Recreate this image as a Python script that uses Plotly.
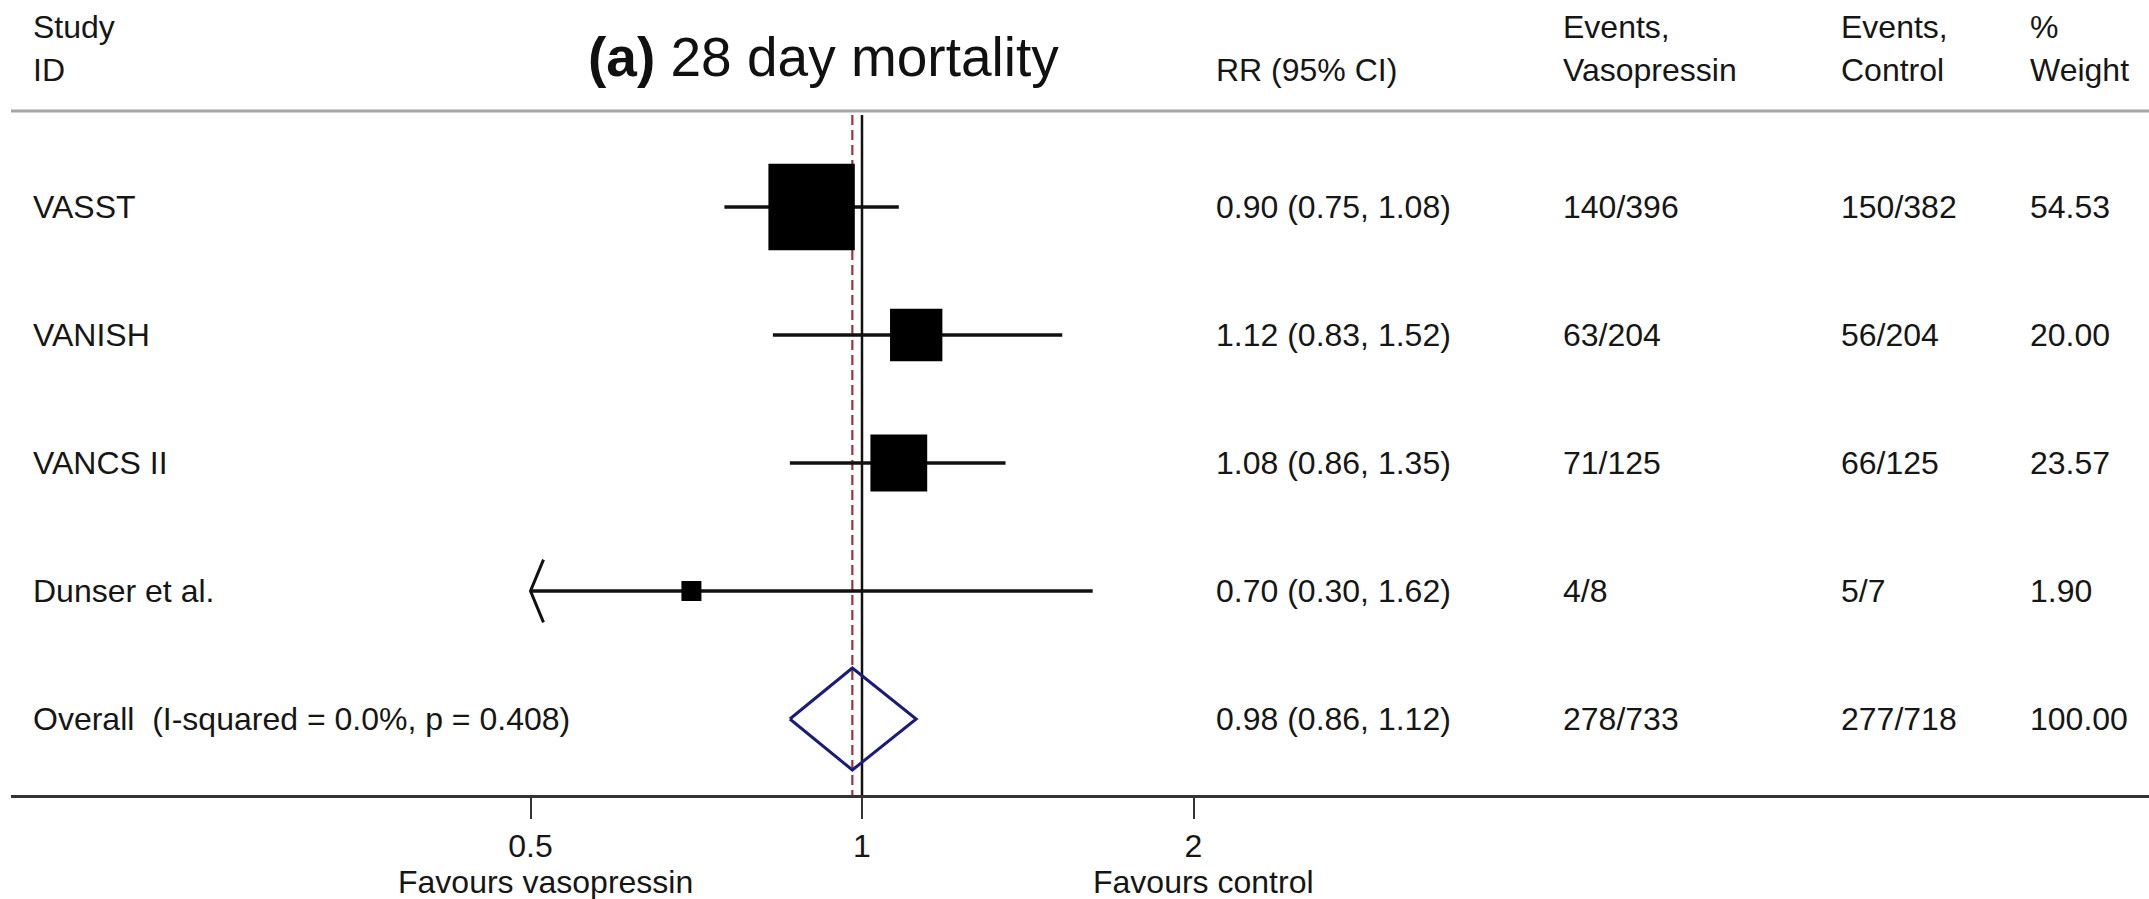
import math
import plotly.graph_objects as go

# ---------------- data ----------------
studies = ["VASST", "VANISH", "VANCS II", "Dunser et al."]
rr = [0.90, 1.12, 1.08, 0.70]
ci_low = [0.75, 0.83, 0.86, 0.30]
ci_high = [1.08, 1.52, 1.35, 1.62]
rr_text = ["0.90 (0.75, 1.08)", "1.12 (0.83, 1.52)", "1.08 (0.86, 1.35)", "0.70 (0.30, 1.62)"]
events_vaso = ["140/396", "63/204", "71/125", "4/8"]
events_ctrl = ["150/382", "56/204", "66/125", "5/7"]
weights = [54.53, 20.00, 23.57, 1.90]

overall_label = "Overall\u00a0\u00a0(I-squared = 0.0%, p = 0.408)"
overall_rr = 0.98
overall_low = 0.86
overall_high = 1.12
overall_rr_text = "0.98 (0.86, 1.12)"
overall_vaso = "278/733"
overall_ctrl = "277/718"
overall_weight = 100.00

tick_vals = [0.5, 1, 2]
tick_text = ["0.5", "1", "2"]
axis_clip_low = 0.5

title_bold = "(a)"
title_rest = "28 day mortality"
col_headers = [("Study", "ID"), ("", "RR (95% CI)"), ("Events,", "Vasopressin"),
               ("Events,", "Control"), ("%", "Weight")]
favours = ["Favours vasopressin", "Favours control"]

# ---------------- geometry ----------------
W, H = 2149, 899
ML, MB = 11, 104
PLOT_BOTTOM = H - MB          # 795 px
PX_ONE = 862                  # pixel of RR = 1
PX_PER_LOG2 = 331.5
ROW0, ROWSTEP = 207, 128

def py(p):  # pixel -> row units
    return (p - ROW0) / ROWSTEP

def paper_x(p):
    return (p - ML) / (W - ML)

def paper_y(p):
    return (PLOT_BOTTOM - p) / PLOT_BOTTOM

xr = [(ML - PX_ONE) / PX_PER_LOG2 * math.log10(2), (W - PX_ONE) / PX_PER_LOG2 * math.log10(2)]
yr = [py(PLOT_BOTTOM), py(0)]

FONT = "Liberation Sans, Arial, Helvetica, sans-serif"
TXT = "#161616"
FS = 32

rows = list(range(len(studies)))
overall_row = len(studies)

fig = go.Figure()

# reference line at 1
fig.add_trace(go.Scatter(x=[1, 1], y=[py(115), yr[0]], mode="lines",
                         line=dict(color="#111111", width=2.5), hoverinfo="skip"))
# overall effect dashed line
fig.add_trace(go.Scatter(x=[overall_rr, overall_rr], y=[py(115), yr[0]], mode="lines",
                         line=dict(color="#a0323c", width=2.2, dash="10px,5px"), hoverinfo="skip"))

# CI lines (clipped at axis lower limit)
cx, cy = [], []
ax, ay = [], []
for i in rows:
    lo = max(ci_low[i], axis_clip_low)
    cx += [lo, ci_high[i], None]
    cy += [i, i, None]
    if ci_low[i] < axis_clip_low:
        arm = axis_clip_low * 2 ** (13 / PX_PER_LOG2)
        ax += [arm, axis_clip_low, arm, None]
        ay += [i - 0.245, i, i + 0.245, None]
fig.add_trace(go.Scatter(x=cx, y=cy, mode="lines", line=dict(color="#111111", width=3.6),
                         hoverinfo="skip"))
fig.add_trace(go.Scatter(x=ax, y=ay, mode="lines", line=dict(color="#111111", width=3),
                         hoverinfo="skip"))

# weight boxes
sizes = [max(11.7 * math.sqrt(w), 20) for w in weights]
fig.add_trace(go.Scatter(x=rr, y=rows, mode="markers",
                         marker=dict(symbol="square", size=sizes, color="#000000", opacity=1,
                                     line=dict(width=0)), hoverinfo="skip"))

# overall diamond
dh = 51 / ROWSTEP
fig.add_trace(go.Scatter(x=[overall_low, overall_rr, overall_high, overall_rr, overall_low],
                         y=[overall_row, overall_row - dh, overall_row, overall_row + dh, overall_row],
                         mode="lines", line=dict(color="#1c1c78", width=3), hoverinfo="skip"))

ann = []

def add_text(x_px, y, text, size=FS, yref="y"):
    ann.append(dict(x=paper_x(x_px), xref="paper", y=y, yref=yref, text=text,
                    showarrow=False, xanchor="left", yanchor="middle",
                    font=dict(family=FONT, size=size, color=TXT)))

col_x = [31, 1214, 1561, 1839, 2028]
for cx_px, (h1, h2) in zip(col_x, col_headers):
    if h1:
        add_text(cx_px, py(27), h1)
    add_text(cx_px, py(70), h2)

# title
ann.append(dict(x=paper_x(586), xref="paper", y=py(57), yref="y",
                text="<b>" + title_bold + "</b> " + title_rest, showarrow=False,
                xanchor="left", yanchor="middle", font=dict(family=FONT, size=55, color="#111111")))

for i in rows:
    add_text(col_x[0], i, studies[i])
    add_text(col_x[1], i, rr_text[i])
    add_text(col_x[2], i, events_vaso[i])
    add_text(col_x[3], i, events_ctrl[i])
    add_text(col_x[4], i, f"{weights[i]:.2f}")

add_text(col_x[0], overall_row, overall_label)
add_text(col_x[1], overall_row, overall_rr_text)
add_text(col_x[2], overall_row, overall_vaso)
add_text(col_x[3], overall_row, overall_ctrl)
add_text(col_x[4], overall_row, f"{overall_weight:.2f}")

# favours labels
for lab, cxp in zip(favours, [545, 1203]):
    ann.append(dict(x=paper_x(cxp), xref="paper", y=paper_y(882), yref="paper", text=lab,
                    showarrow=False, xanchor="center", yanchor="middle",
                    font=dict(family=FONT, size=FS, color=TXT)))

shapes = [dict(type="line", xref="paper", x0=0, x1=1, yref="y", y0=py(111), y1=py(111),
               line=dict(color="#a6a6a6", width=3))]

fig.update_layout(
    width=W, height=H,
    margin=dict(l=ML, r=0, t=0, b=MB, pad=0),
    paper_bgcolor="white", plot_bgcolor="white",
    showlegend=False,
    annotations=ann, shapes=shapes,
    xaxis=dict(type="log", range=xr, showgrid=False, zeroline=False,
               showline=True, linecolor="#333333", linewidth=3,
               ticks="outside", ticklen=21, tickwidth=2, tickcolor="#333333",
               tickvals=tick_vals, ticktext=tick_text,
               tickfont=dict(family=FONT, size=FS, color=TXT), fixedrange=True),
    yaxis=dict(range=yr, visible=False, fixedrange=True),
)

fig.write_html("out.html")
